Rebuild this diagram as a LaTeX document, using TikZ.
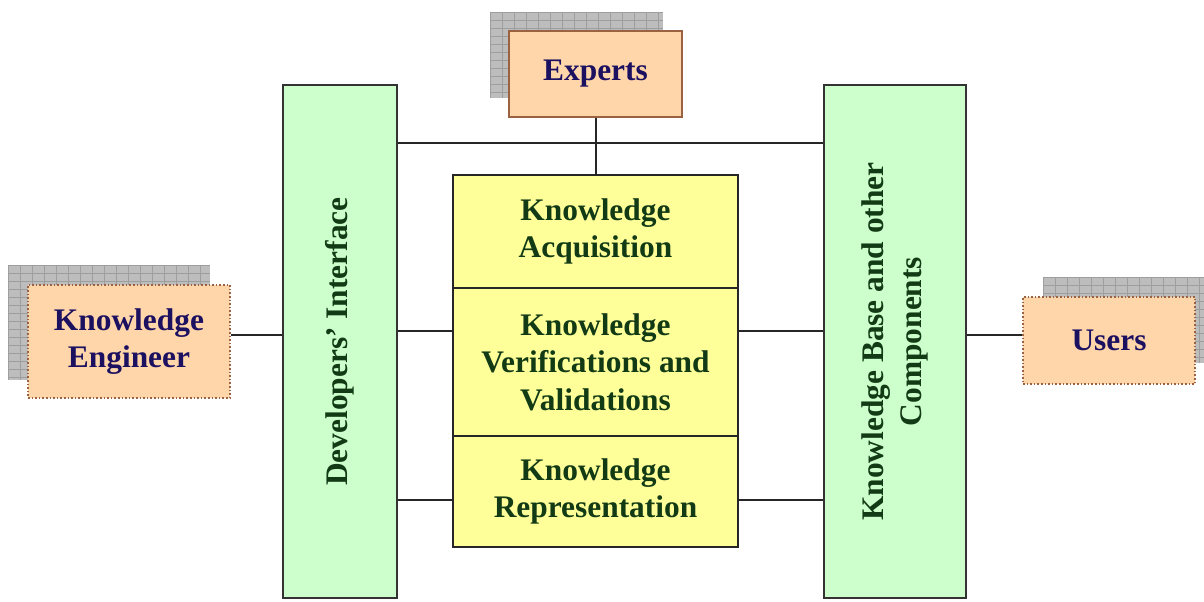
\documentclass[tikz,border=0pt]{standalone}
\usepackage{fontspec}
\setmainfont{Liberation Serif}
\usetikzlibrary{positioning,calc}
\definecolor{KsOrange}{HTML}{FFD6AA}
\definecolor{KsBrown}{HTML}{9A6240}
\definecolor{KsGreen}{HTML}{CCFFCC}
\definecolor{KsYellow}{HTML}{FFFF99}
\definecolor{KsNavy}{HTML}{1C1060}
\definecolor{KsDarkGreen}{HTML}{123A14}
\definecolor{KsGrid}{HTML}{BDBDBD}
\definecolor{KsGridLine}{HTML}{9E9E9E}

\tikzset{
  boxfont/.style={font=\fontsize{15.7}{18.8}\selectfont\bfseries},
  actor/.style={boxfont,draw=KsBrown,fill=KsOrange,text=KsNavy,line width=0.8pt,
    densely dotted,align=center,inner sep=0pt},
  column/.style={draw=black!80,fill=KsGreen,line width=1pt,inner sep=0pt,minimum width=#1},
  stage/.style={boxfont,draw=black!85,fill=KsYellow,text=KsDarkGreen,line width=0.8pt,
    align=center,inner sep=0pt,minimum width=142.5pt},
  link/.style={black!85,line width=1pt},
  sidetext/.style={boxfont,text=KsDarkGreen,rotate=90,align=center}
}
\newcommand{\gridshadow}[4]{%
  \fill[KsGrid] (#1,#2) rectangle (#3,#4);
  \pgfmathsetmacro{\xa}{#1+12}
  \foreach \gx in {#1,\xa,...,#3}{\draw[KsGridLine,line width=0.3pt] (\gx,#2) -- (\gx,#4);}
  \pgfmathsetmacro{\ya}{#2+8}
  \foreach \gy in {#2,\ya,...,#4}{\draw[KsGridLine,line width=0.3pt] (#1,\gy) -- (#3,\gy);}
}

\begin{document}
\begin{tikzpicture}[x=0.5pt,y=-0.5pt]
  \useasboundingbox (0,0) rectangle (1204,601);

  % shadows behind the actors
  \gridshadow{8}{265}{210}{380}
  \gridshadow{490}{12}{663}{98}
  \gridshadow{1043}{277}{1204}{363}

  % actors
  \node[actor,minimum width=101pt,minimum height=56.5pt] (engineer) at (129,341.5) {Knowledge\\Engineer};
  \node[actor,solid,minimum width=86.5pt,minimum height=43pt] (experts) at (595.5,74) {Experts};
  \node[actor,minimum width=86pt,minimum height=43.5pt] (users) at (1109,340.5) {Users};

  % side columns
  \node[column=57pt,minimum height=256.5pt,
    label={[sidetext]center:Developers' Interface}] (devif) at (339.5,341.5) {};
  \node[column=71pt,minimum height=256.5pt,
    label={[sidetext]center:Knowledge Base and other\\Components}] (kbase) at (895,341.5) {};

  % knowledge stages
  \node[stage,minimum height=56.5pt] (acquire) at (595.5,231.5) {Knowledge\\Acquisition};
  \node[stage,minimum height=74pt,below=-0.8pt of acquire] (verify) {Knowledge\\Verifications and\\Validations};
  \node[stage,minimum height=55.5pt,below=-0.8pt of verify] (repr) {Knowledge\\Representation};

  % connectors
  \coordinate (toprow) at (0,143);
  \coordinate (midrow) at (0,331);
  \coordinate (lowrow) at (0,500);
  \coordinate (siderow) at (0,335);
  \draw[link] (engineer.east |- siderow) -- (devif.west |- siderow);
  \draw[link] (kbase.east |- siderow) -- (users.west |- siderow);
  \draw[link] (devif.east |- toprow) -- (kbase.west |- toprow);
  \draw[link] (experts.south) -- (acquire.north);
  \draw[link] (devif.east |- midrow) -- (verify.west |- midrow);
  \draw[link] (devif.east |- lowrow) -- (repr.west |- lowrow);
  \draw[link] (verify.east |- midrow) -- (kbase.west |- midrow);
  \draw[link] (repr.east |- lowrow) -- (kbase.west |- lowrow);
\end{tikzpicture}
\end{document}
